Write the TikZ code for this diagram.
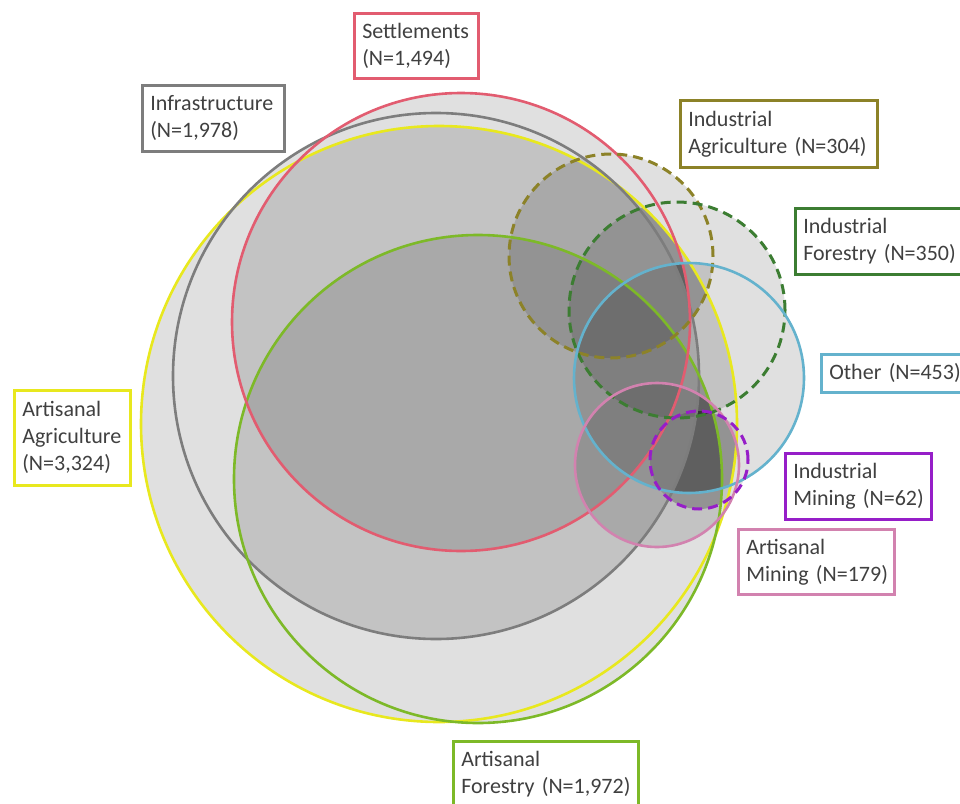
\documentclass[tikz,border=0pt]{standalone}
\usepackage{fontspec}
\setmainfont{Carlito}
\definecolor{cY}{RGB}{232,232,30}
\definecolor{cG}{RGB}{125,125,125}
\definecolor{cP}{RGB}{226,92,112}
\definecolor{cF}{RGB}{125,185,40}
\definecolor{cIA}{RGB}{140,130,40}
\definecolor{cIF}{RGB}{60,125,50}
\definecolor{cO}{RGB}{100,178,205}
\definecolor{cAM}{RGB}{210,130,175}
\definecolor{cIM}{RGB}{150,30,200}
\definecolor{base}{RGB}{224,224,224}
\definecolor{txt}{RGB}{64,64,64}
\def\cY{(439,424) circle[radius=298pt]}
\def\cG{(436,376) circle[radius=263pt]}
\def\cP{(461,322) circle[radius=229pt]}
\def\cF{(478,479) circle[radius=244pt]}
\def\cIA{(611,256) circle[radius=102pt]}
\def\cIF{(677,310) circle[radius=108pt]}
\def\cO{(689,378) circle[radius=115pt]}
\def\cAM{(657,465) circle[radius=82pt]}
\def\cIM{(699,460) circle[radius=49pt]}
\def\bigrect{(-20,-20) rectangle (1000,900)}
\newcommand\pairfill[2]{\begin{scope}\clip #1;\fill[shadelayer] #2;\end{scope}}
\newcommand\allpairs{%
  \pairfill{\cP}{\cF}\pairfill{\cP}{\cIA}\pairfill{\cP}{\cIF}\pairfill{\cP}{\cO}%
  \pairfill{\cP}{\cAM}\pairfill{\cP}{\cIM}%
  \pairfill{\cF}{\cIA}\pairfill{\cF}{\cIF}\pairfill{\cF}{\cO}\pairfill{\cF}{\cAM}\pairfill{\cF}{\cIM}%
  \pairfill{\cIA}{\cIF}\pairfill{\cIA}{\cO}\pairfill{\cIA}{\cAM}\pairfill{\cIA}{\cIM}%
  \pairfill{\cIF}{\cO}\pairfill{\cIF}{\cAM}\pairfill{\cIF}{\cIM}%
  \pairfill{\cO}{\cAM}\pairfill{\cO}{\cIM}%
  \pairfill{\cAM}{\cIM}}
\begin{document}
\begin{tikzpicture}[x=1pt,y=-1pt,
  shadelayer/.style={fill=black,fill opacity=0.13},
  ring/.style={line width=2.6pt},
  dring/.style={line width=3pt,dash pattern=on 10pt off 6pt},
  lbl/.style={draw,line width=2.6pt,fill=white,text=txt,align=left,anchor=north west,
    inner xsep=8pt,inner ysep=0pt,font=\fontsize{22}{27}\selectfont}]
\useasboundingbox (0,0) rectangle (960,803);
\clip (0,0) rectangle (960,803);
% base light fill of the union
\foreach \c in {\cY,\cG,\cP,\cF,\cIA,\cIF,\cO,\cAM,\cIM} {\fill[base] \c;}
% inside Y and G : one layer per other set
\begin{scope}
  \clip \cY; \clip \cG;
  \foreach \c in {\cP,\cF,\cIA,\cIF,\cO,\cAM,\cIM} {\fill[shadelayer] \c;}
\end{scope}
% inside Y, outside G
\begin{scope}[even odd rule]
  \clip \cY; \clip \bigrect \cG;
  \allpairs
\end{scope}
% inside G, outside Y
\begin{scope}[even odd rule]
  \clip \cG; \clip \bigrect \cY;
  \allpairs
\end{scope}
% outside both
\begin{scope}[even odd rule]
  \clip \bigrect \cY; \clip \bigrect \cG;
  \clip \cIA; \clip \cIF; \fill[shadelayer] \cO;
\end{scope}
% outlines
\draw[ring,cY] \cY;
\draw[ring,cG] \cG;
\draw[ring,cF] \cF;
\draw[ring,cP] \cP;
\draw[dring,cIA] \cIA;
\draw[dring,cIF] \cIF;
\draw[ring,cO] \cO;
\draw[ring,cAM] \cAM;
\draw[dring,cIM] \cIM;
% labels
\node[lbl,draw=cP,text width=108pt,minimum height=65pt] (lS) at (353,12) {Settlements\\(N=1,494)};
\node[lbl,draw=cG,text width=126pt,minimum height=66pt] (lInf) at (141,84) {Infrastructure\\(N=1,978)};
\node[lbl,draw=cIA,text width=181pt,minimum height=67pt] (lIA) at (679,99) {Industrial\\Agriculture~(N=304)};
\node[lbl,draw=cIF,text width=170pt,minimum height=66pt] (lIF) at (794,207) {Industrial\\Forestry~(N=350)};
\node[lbl,draw=cO,text width=150pt,minimum height=38pt] (lO) at (820,353) {Other~(N=453)};
\node[lbl,draw=cY,text width=100pt,minimum height=95pt] (lAA) at (13,389) {Artisanal\\Agriculture\\(N=3,324)};
\node[lbl,draw=cIM,text width=130pt,minimum height=66pt] (lIM) at (784,452) {Industrial\\Mining~(N=62)};
\node[lbl,draw=cAM,text width=140pt,minimum height=65pt] (lAM) at (737,528) {Artisanal\\Mining~(N=179)};
\node[lbl,draw=cF,text width=169pt,minimum height=66pt] (lAF) at (452,740) {Artisanal\\Forestry~(N=1,972)};
\end{tikzpicture}
\end{document}
